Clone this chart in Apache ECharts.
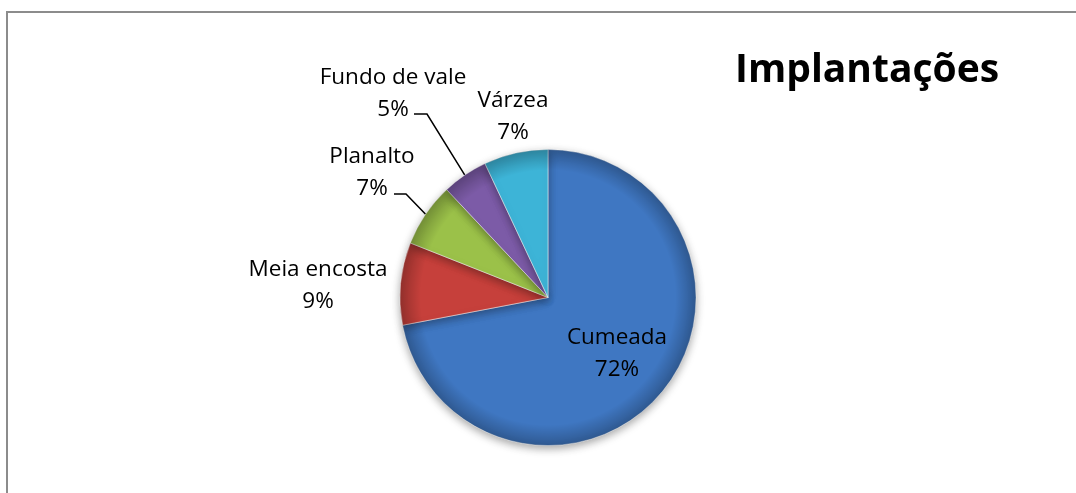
<!DOCTYPE html>
<html>
<head>
<meta charset="utf-8">
<script src="https://cdn.jsdelivr.net/npm/echarts@6/dist/echarts.min.js"></script>
<style>
  html, body { margin: 0; padding: 0; background: #fff; }
  #chart { width: 1076px; height: 493px; }
</style>
</head>
<body>
<div id="chart"></div>
<script>
// Data
const categories = ['Cumeada', 'Meia encosta', 'Planalto', 'Fundo de vale', 'Várzea'];
const values = [72, 9, 7, 5, 7];
const sliceColors = ['#3f77c2', '#c6403b', '#9bc149', '#7c5ba7', '#3db4d7'];
const chartTitle = 'Implantações';

(function() {
    const chartDom = document.getElementById('chart');
    const myChart = echarts.init(chartDom, null, { renderer: 'canvas' });

    const font = '"Open Sans", "DejaVu Sans", sans-serif';

    // where each label block sits, and the bends of the leader lines
    const labelSpots = {
        'Cumeada':       { x: 617, y: 354 },
        'Meia encosta':  { x: 318, y: 286 },
        'Planalto':      { x: 372, y: 173, line: [[406, 194], [394, 194]] },
        'Fundo de vale': { x: 393, y: 94,  line: [[427, 114], [414, 114]] },
        'Várzea':        { x: 513, y: 117 }
    };

    const pieData = categories.map((name, i) => ({
        name: name,
        value: values[i],
        itemStyle: { color: sliceColors[i] },
        label: { position: i === 0 ? 'inside' : 'outside' },
        labelLine: { show: !!labelSpots[name].line }
    }));

    const option = {
        backgroundColor: '#ffffff',
        animation: false,
        title: {
            text: chartTitle,
            left: 735,
            top: 51,
            padding: 0,
            textStyle: { fontFamily: font, fontWeight: 'bold', fontSize: 39, color: '#000' }
        },
        graphic: [{
            // chart frame (only top and left edges are visible)
            type: 'polyline',
            shape: { points: [[7, 700], [7, 12], [1200, 12]] },
            style: { fill: null, stroke: '#8c8c8c', lineWidth: 2 },
            silent: true
        }],
        series: [
            {
                name: 'Implantações',
                type: 'pie',
                center: ['50.93%', '60.35%'],
                radius: 148,
                startAngle: 90,
                clockwise: true,
                percentPrecision: 0,
                avoidLabelOverlap: false,
                itemStyle: {
                    borderColor: 'rgba(255,255,255,0.5)',
                    borderWidth: 1,
                    shadowBlur: 8,
                    shadowOffsetY: 3,
                    shadowColor: 'rgba(0,0,0,0.35)'
                },
                label: {
                    formatter: '{b}\n{d}%',
                    fontFamily: font,
                    fontSize: 22.5,
                    lineHeight: 32,
                    color: '#000',
                    align: 'center'
                },
                labelLine: {
                    lineStyle: { color: '#000', width: 1.5 }
                },
                labelLayout: function(params) {
                    const spot = labelSpots[categories[params.dataIndex]];
                    const out = { x: spot.x, y: spot.y, align: 'center', verticalAlign: 'middle' };
                    if (spot.line && params.labelLinePoints) {
                        out.labelLinePoints = [params.labelLinePoints[0]].concat(spot.line);
                    }
                    return out;
                },
                emphasis: { disabled: true },
                data: pieData
            },
            {
                // darker rim to mimic the bevelled look
                type: 'pie',
                center: ['50.93%', '60.35%'],
                radius: 148,
                silent: true,
                label: { show: false },
                labelLine: { show: false },
                itemStyle: {
                    color: {
                        type: 'radial', x: 0.5, y: 0.5, r: 0.5,
                        colorStops: [
                            { offset: 0, color: 'rgba(0,0,0,0)' },
                            { offset: 0.86, color: 'rgba(0,0,0,0)' },
                            { offset: 1, color: 'rgba(0,0,0,0.25)' }
                        ]
                    }
                },
                emphasis: { disabled: true },
                data: [{ value: 1, name: '' }]
            }
        ]
    };

    myChart.setOption(option);
    window.addEventListener('resize', () => myChart.resize());
})();
</script>
</body>
</html>
